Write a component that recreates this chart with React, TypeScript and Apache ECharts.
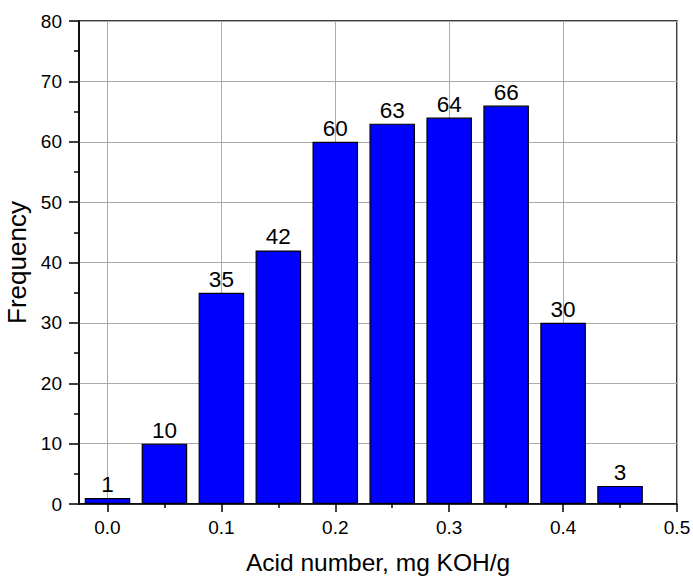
import React, { useEffect, useRef } from "react";
import * as echarts from "echarts";

const binCenters = [0.0, 0.05, 0.1, 0.15, 0.2, 0.25, 0.3, 0.35, 0.4, 0.45];
const frequencies = [1, 10, 35, 42, 60, 63, 64, 66, 30, 3];
const xTickValues = [0.0, 0.1, 0.2, 0.3, 0.4, 0.5];
const yTickLabels = ["0", "10", "20", "30", "40", "50", "60", "70", "80"];

const W = 693;
const H = 579;
const GRID_LEFT = 79;
const GRID_RIGHT = 16;
const GRID_TOP = 21;
const GRID_BOTTOM = 75;
const X_MIN = -0.025;
const X_MAX = 0.5;
const FONT = "'Liberation Sans', Arial, sans-serif";

export default function App() {
  const ref = useRef<HTMLDivElement>(null);
  useEffect(() => {
    if (!ref.current) return;
    const chart = echarts.init(ref.current, undefined, { renderer: "svg" });
    const plotW = W - GRID_LEFT - GRID_RIGHT;
    const offset = (plotW * (0 - X_MIN)) / (X_MAX - X_MIN);
    const grey = "#ababab";
    chart.setOption({
      animation: false,
      backgroundColor: "#ffffff",
      grid: [
        {
          left: GRID_LEFT,
          right: GRID_RIGHT,
          top: GRID_TOP,
          bottom: GRID_BOTTOM,
          containLabel: false,
          outerBoundsMode: "none",
          show: true,
          borderColor: "#000",
          borderWidth: 1.5,
          backgroundColor: "transparent",
        },
        {
          left: GRID_LEFT + offset,
          right: GRID_RIGHT,
          top: GRID_TOP,
          bottom: GRID_BOTTOM,
          containLabel: false,
          outerBoundsMode: "none",
        },
      ],
      xAxis: [
        {
          type: "value",
          gridIndex: 0,
          min: X_MIN,
          max: X_MAX,
          axisLine: { show: true, onZero: false, lineStyle: { color: "#000", width: 1.5 } },
          axisTick: { show: false },
          axisLabel: { show: false },
          splitLine: { show: false },
          name: "Acid number, mg KOH/g",
          nameLocation: "middle",
          nameGap: 46,
          nameTextStyle: { color: "#000", fontSize: 24.5, fontFamily: FONT },
        },
        {
          type: "value",
          gridIndex: 1,
          min: xTickValues[0],
          max: xTickValues[xTickValues.length - 1],
          interval: 0.1,
          axisLine: { show: false, onZero: false },
          axisTick: { show: true, length: 8, inside: false, lineStyle: { color: "#000", width: 1.5 } },
          minorTick: { show: true, splitNumber: 2, length: 4, lineStyle: { color: "#000", width: 1.5 } },
          axisLabel: {
            show: true,
            margin: 14,
            color: "#000",
            fontSize: 19,
            fontFamily: FONT,
            formatter: (v: number) => v.toFixed(1),
          },
          splitLine: { show: true, lineStyle: { color: grey, width: 1 } },
        },
      ],
      yAxis: [
        {
          type: "value",
          gridIndex: 0,
          min: 0,
          max: 80,
          interval: 10,
          axisLine: { show: true, onZero: false, lineStyle: { color: "#000", width: 1.5 } },
          axisTick: { show: true, length: 10, inside: false, lineStyle: { color: "#000", width: 1.5 } },
          minorTick: { show: true, splitNumber: 2, length: 5, lineStyle: { color: "#000", width: 1.5 } },
          axisLabel: {
            show: true,
            margin: 17,
            color: "#000",
            fontSize: 19,
            fontFamily: FONT,
            formatter: (v: number) => yTickLabels[Math.round(v / 10)] ?? String(v),
          },
          splitLine: { show: true, lineStyle: { color: grey, width: 1 } },
          name: "Frequency",
          nameLocation: "middle",
          nameGap: 44,
          nameTextStyle: { color: "#000", fontSize: 26, fontFamily: FONT },
        },
        {
          type: "value",
          gridIndex: 1,
          min: 0,
          max: 80,
          show: false,
          axisLine: { show: false, onZero: false },
          splitLine: { show: false },
        },
      ],
      series: [
        {
          type: "bar",
          xAxisIndex: 0,
          yAxisIndex: 0,
          data: binCenters.map((c, i) => [c, frequencies[i]]),
          barWidth: "80%",
          itemStyle: { color: "#0000ff", borderColor: "#000", borderWidth: 1.2 },
          label: {
            show: true,
            position: "top",
            distance: 2,
            color: "#000",
            fontSize: 22.5,
            fontFamily: FONT,
            formatter: (p: any) => String(p.value[1]),
          },
          z: 3,
        },
      ],
    });
    return () => chart.dispose();
  }, []);
  return (
    <div
      ref={ref}
      style={{ position: "fixed", left: 0, top: 0, width: W, height: H, background: "#fff" }}
    />
  );
}
